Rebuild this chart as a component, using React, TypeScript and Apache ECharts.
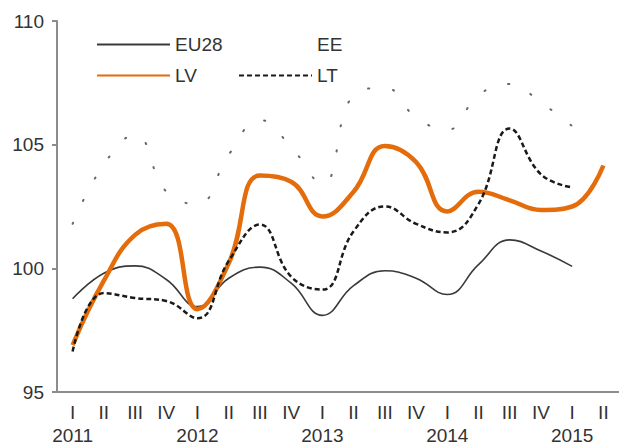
import React, { useEffect, useRef } from "react";
import * as echarts from "echarts";

const quarters = ["I", "II", "III", "IV", "I", "II", "III", "IV", "I", "II", "III", "IV", "I", "II", "III", "IV", "I", "II"];
const years = ["2011", "", "", "", "2012", "", "", "", "2013", "", "", "", "2014", "", "", "", "2015", ""];

const eu28 = [98.77, 99.8, 100.1, 99.55, 98.45, 99.6, 100.05, 99.4, 98.1, 99.3, 99.9, 99.6, 98.94, 100.15, 101.15, 100.7, 100.08, null];
const lv = [96.9, 99.5, 101.35, 101.8, 98.35, 100.2, 103.75, 103.5, 102.1, 103.1, 104.95, 104.3, 102.3, 103.1, 102.75, 102.36, 102.5, 104.16];
const ee = [101.8, 104.2, 105.4, 103.1, 102.6, 104.6, 106.0, 104.9, 103.4, 107.0, 107.3, 106.1, 105.6, 107.0, 107.45, 106.7, 105.75, null];
const lt = [96.64, 99.0, 98.8, 98.68, 97.98, 100.3, 101.77, 99.66, 99.14, 101.5, 102.5, 101.8, 101.45, 102.6, 105.65, 103.8, 103.27, null];

const yTicks = [95, 100, 105, 110];

const categories = quarters.map((q, i) => (years[i] ? q + "\n" + years[i] : q));

const FONT = "'Liberation Sans', Arial, sans-serif";
const TEXT = "#333333";

export default function App() {
  const ref = useRef<HTMLDivElement>(null);

  useEffect(() => {
    if (!ref.current) return;
    const chart = echarts.init(ref.current, null, { renderer: "svg" });
    const legendBase = {
      itemWidth: 73,
      itemHeight: 14,
      itemGap: 5,
      padding: 0,
      itemStyle: { opacity: 0 },
      textStyle: { fontFamily: FONT, fontSize: 19, color: TEXT },
      selectedMode: false,
    };
    chart.setOption({
      animation: false,
      backgroundColor: "#ffffff",
      textStyle: { fontFamily: FONT },
      grid: { left: 57, top: 21, width: 564, height: 381, containLabel: false },
      legend: [
        { ...legendBase, data: ["EU28"], left: 96, top: 35 },
        { ...legendBase, data: [{ name: "EE", lineStyle: { opacity: 0 } }], left: 238, top: 35 },
        { ...legendBase, data: ["LV"], left: 96, top: 66 },
        { ...legendBase, data: ["LT"], left: 238, top: 66 },
      ],
      xAxis: {
        type: "category",
        data: categories,
        boundaryGap: true,
        axisLine: { show: true, lineStyle: { color: "#8c8c8c", width: 2 } },
        axisTick: { show: false },
        axisLabel: {
          interval: 0,
          margin: 9,
          fontFamily: FONT,
          fontSize: 19,
          lineHeight: 23,
          color: TEXT,
          verticalAlign: "top",
        },
        splitLine: { show: false },
      },
      yAxis: {
        type: "value",
        min: yTicks[0],
        max: yTicks[yTicks.length - 1],
        interval: 5,
        axisLine: { show: true, lineStyle: { color: "#8c8c8c", width: 2 } },
        axisTick: { show: true, length: 5, lineStyle: { color: "#8c8c8c", width: 2 } },
        axisLabel: { margin: 13, fontFamily: FONT, fontSize: 19, color: TEXT },
        splitLine: { show: false },
      },
      series: [
        {
          name: "EU28",
          type: "line",
          data: eu28,
          smooth: 0.45,
          symbol: "none",
          lineStyle: { color: "#3a3a3a", width: 1.6 },
          itemStyle: { color: "#3a3a3a" },
          z: 3,
        },
        {
          name: "EE",
          type: "line",
          data: ee,
          smooth: 0.45,
          symbol: "none",
          lineStyle: { color: "#666666", width: 2, type: [1.2, 24], cap: "round" },
          itemStyle: { color: "#666666" },
          z: 2,
        },
        {
          name: "LV",
          type: "line",
          data: lv,
          smooth: 0.45,
          symbol: "none",
          lineStyle: { color: "#e46c0a", width: 4.5 },
          itemStyle: { color: "#e46c0a" },
          z: 4,
        },
        {
          name: "LT",
          type: "line",
          data: lt,
          smooth: 0.45,
          symbol: "none",
          lineStyle: { color: "#1a1a1a", width: 2.5, type: [5, 3] },
          itemStyle: { color: "#1a1a1a" },
          z: 5,
        },
      ],
    });
    return () => chart.dispose();
  }, []);

  return (
    <div
      ref={ref}
      style={{ position: "fixed", left: 0, top: 0, width: 619, height: 447, background: "#fff" }}
    />
  );
}
